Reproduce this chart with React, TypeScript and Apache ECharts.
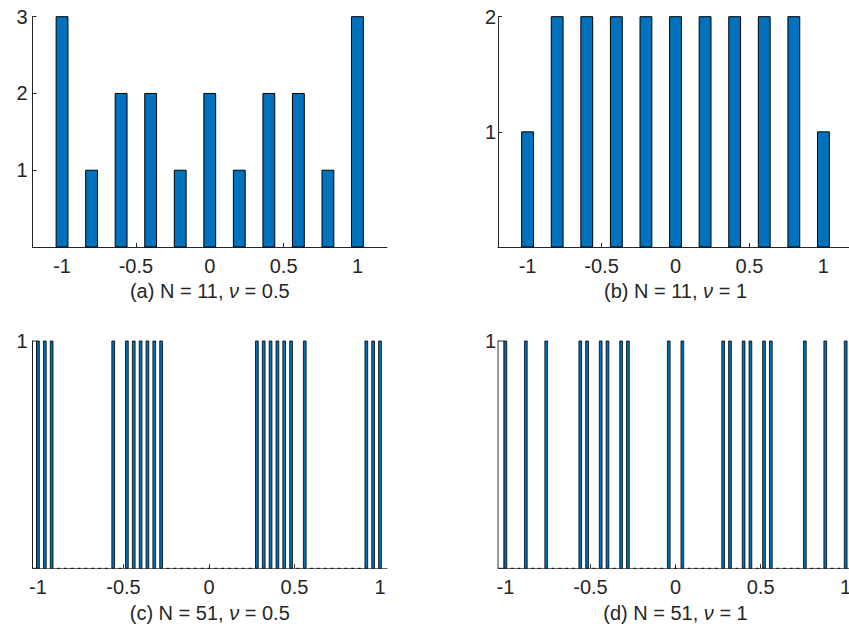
import React, { useEffect, useRef } from "react";
import * as echarts from "echarts";

// ---- data ----
const centers11 = [-1, -0.8, -0.6, -0.4, -0.2, 0, 0.2, 0.4, 0.6, 0.8, 1];
const countsA = [3, 1, 2, 2, 1, 2, 1, 2, 2, 1, 3];
const countsB = [1, 2, 2, 2, 2, 2, 2, 2, 2, 2, 1];

const centers51 = [
  -1, -0.96, -0.92, -0.88, -0.84, -0.8, -0.76, -0.72, -0.68, -0.64,
  -0.6, -0.56, -0.52, -0.48, -0.44, -0.4, -0.36, -0.32, -0.28, -0.24,
  -0.2, -0.16, -0.12, -0.08, -0.04, 0, 0.04, 0.08, 0.12, 0.16,
  0.2, 0.24, 0.28, 0.32, 0.36, 0.4, 0.44, 0.48, 0.52, 0.56,
  0.6, 0.64, 0.68, 0.72, 0.76, 0.8, 0.84, 0.88, 0.92, 0.96, 1,
];
const countsC = [
  1, 1, 1, 0, 0, 0, 0, 0, 0, 0,
  0, 1, 0, 1, 1, 1, 1, 1, 1, 0,
  0, 0, 0, 0, 0, 0, 0, 0, 0, 0,
  0, 0, 1, 1, 1, 1, 1, 1, 0, 1,
  0, 0, 0, 0, 0, 0, 0, 0, 1, 1, 1,
];
const countsD = [
  1, 0, 0, 1, 0, 0, 1, 0, 0, 0,
  0, 1, 1, 0, 1, 1, 0, 1, 1, 0,
  0, 0, 0, 0, 1, 0, 1, 0, 0, 0,
  0, 0, 1, 1, 0, 1, 1, 0, 1, 1,
  0, 0, 0, 0, 1, 0, 0, 1, 0, 0, 1,
];

const xTicks = [-1, -0.5, 0, 0.5, 1];
const yTicksA = [1, 2, 3];
const yTicksB = [1, 2];
const yTicksCD = [1];

const captions = [
  "(a) N = 11, {i|ν} = 0.5",
  "(b) N = 11, {i|ν} = 1",
  "(c) N = 51, {i|ν} = 0.5",
  "(d) N = 51, {i|ν} = 1",
];

// ---- styles ----
const FONT = '"Liberation Sans", Arial, Helvetica, sans-serif';
const AXIS_COLOR = "#262626";
const BAR_COLOR = "#0072BD";

export default function App() {
  const ref = useRef<HTMLDivElement>(null);

  useEffect(() => {
    if (!ref.current) return;
    const chart = echarts.init(ref.current, null, { renderer: "svg" });

    const grids = [
      { left: 32.5, top: 16.7, width: 354.5, height: 230.3 },
      { left: 498, top: 16.7, width: 355, height: 230.3 },
      { left: 32.5, top: 341, width: 354.5, height: 227.3 },
      { left: 498, top: 341, width: 355, height: 227.3 },
    ];
    const xRanges = [
      [-1.2, 1.2],
      [-1.2, 1.2],
      [-1.032, 1.041],
      [-1.0435, 1.043],
    ];
    const yMax = [3, 2, 1, 1];
    const yTicks = [yTicksA, yTicksB, yTicksCD, yTicksCD];
    const yMargin = [5, 2, 5, 2];
    const bottomAxisColor = [AXIS_COLOR, AXIS_COLOR, "#6a6a6a", "#6a6a6a"];

    const xAxis = grids.map((_, i) => ({
      type: "value",
      gridIndex: i,
      min: xRanges[i][0],
      max: xRanges[i][1],
      axisLine: { show: true, onZero: false, lineStyle: { color: bottomAxisColor[i], width: 1 } },
      axisTick: { show: true, inside: true, length: 4, customValues: xTicks, lineStyle: { color: AXIS_COLOR } },
      axisLabel: {
        show: true,
        customValues: xTicks,
        fontSize: 20,
        fontFamily: FONT,
        color: AXIS_COLOR,
        margin: 9,
      },
      splitLine: { show: false },
    }));

    const yAxis = grids.map((_, i) => ({
      type: "value",
      gridIndex: i,
      position: "left",
      min: 0,
      max: yMax[i],
      axisLine: { show: true, onZero: false, lineStyle: { color: AXIS_COLOR, width: 1 } },
      axisTick: { show: true, inside: true, length: 4, customValues: yTicks[i], lineStyle: { color: AXIS_COLOR } },
      axisLabel: {
        show: true,
        customValues: yTicks[i],
        fontSize: 20,
        fontFamily: FONT,
        color: AXIS_COLOR,
        margin: yMargin[i],
      },
      splitLine: { show: false },
    }));

    const barSeries = (idx: number, xs: number[], ys: number[], halfW: number, lw: number) => ({
      type: "custom",
      xAxisIndex: idx,
      yAxisIndex: idx,
      data: xs.map((x, k) => [x, ys[k]]),
      encode: { x: 0, y: 1 },
      z: 3,
      renderItem: (_p: any, api: any) => {
        const x = api.value(0);
        const y = api.value(1);
        const tl = api.coord([x - halfW, y]);
        const br = api.coord([x + halfW, 0]);
        if (y === 0) {
          return {
            type: "line",
            shape: { x1: tl[0], y1: br[1], x2: br[0], y2: br[1] },
            style: { stroke: "#000", lineWidth: 1 },
          };
        }
        return {
          type: "rect",
          shape: { x: tl[0], y: tl[1], width: br[0] - tl[0], height: br[1] - tl[1] },
          style: { fill: BAR_COLOR, stroke: "#000", lineWidth: lw },
        };
      },
    });

    // white outlined strip between the axis and the first bar (panels c, d)
    const edgeSeries = (idx: number, xs: number[], ys: number[], halfW: number, xmin: number) => ({
      type: "custom",
      xAxisIndex: idx,
      yAxisIndex: idx,
      data: [[xs[0], ys[0]]],
      encode: { x: 0, y: 1 },
      z: 2,
      renderItem: (_p: any, api: any) => {
        const x = api.value(0);
        const y = api.value(1);
        const tl = api.coord([xmin, y]);
        const br = api.coord([x - halfW, 0]);
        return {
          type: "rect",
          shape: { x: tl[0], y: tl[1], width: br[0] - tl[0], height: br[1] - tl[1] },
          style: { fill: "#fff", stroke: "#000", lineWidth: 0.8 },
        };
      },
    });

    const series = [
      barSeries(0, centers11, countsA, 0.04, 1),
      barSeries(1, centers11, countsB, 0.04, 1),
      edgeSeries(2, centers51, countsC, 0.008, xRanges[2][0]),
      barSeries(2, centers51, countsC, 0.008, 0.8),
      edgeSeries(3, centers51, countsD, 0.008, xRanges[3][0]),
      barSeries(3, centers51, countsD, 0.008, 0.8),
    ];

    const capPos = [
      [209.75, 291],
      [675.5, 291],
      [209.75, 613],
      [675.5, 613],
    ];
    const graphic = captions.map((t, i) => ({
      type: "text",
      x: capPos[i][0],
      y: capPos[i][1],
      style: {
        text: t,
        fontSize: 20,
        fontFamily: FONT,
        fill: AXIS_COLOR,
        align: "center",
        verticalAlign: "middle",
        rich: {
          i: { fontStyle: "italic", fontSize: 20, fontFamily: FONT, fill: AXIS_COLOR },
        },
      },
    }));

    chart.setOption({
      animation: false,
      backgroundColor: "#ffffff",
      grid: grids.map((g) => ({ ...g, containLabel: false, outerBoundsMode: "none" })),
      xAxis,
      yAxis,
      series,
      graphic,
    });

    return () => chart.dispose();
  }, []);

  return (
    <div
      ref={ref}
      style={{ position: "fixed", left: 0, top: 0, width: 849, height: 631, background: "#fff" }}
    />
  );
}
